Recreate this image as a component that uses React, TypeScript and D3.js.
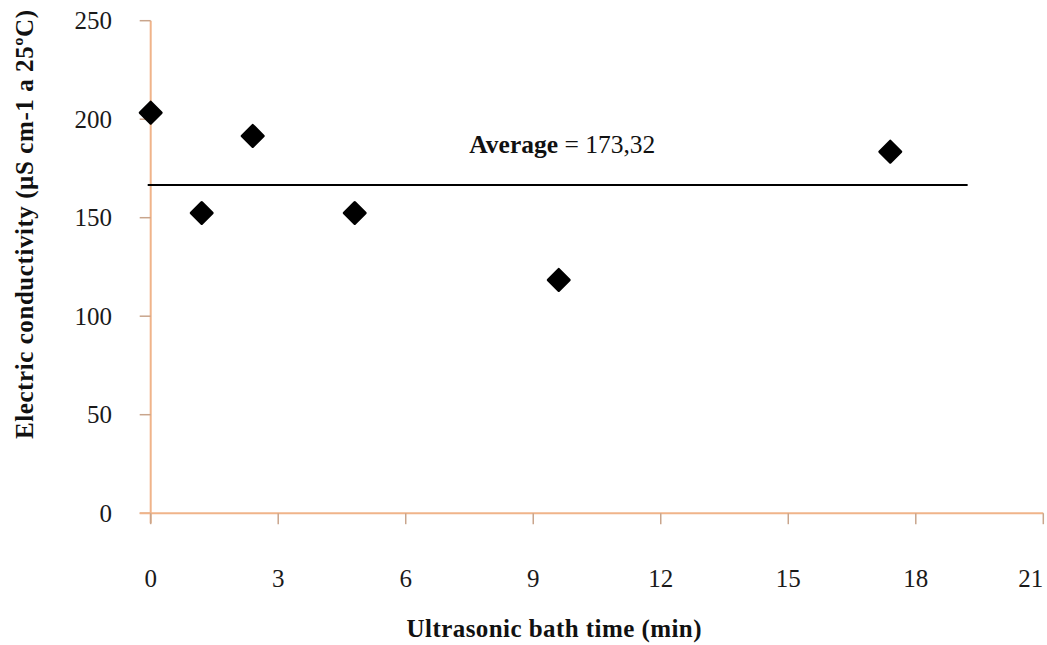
import React, { useRef, useEffect } from "react";
import * as d3 from "d3";

// bath time (min) and conductivity readings
const times = [0, 1.2, 2.4, 4.8, 9.6, 17.4];
const conductivity = [203.3, 152.4, 191.5, 152.4, 118.4, 183.5];
const xTicks = [0, 3, 6, 9, 12, 15, 18, 21];
const yTicks = [0, 50, 100, 150, 200, 250];
// horizontal reference line as drawn (value, x start, x end)
const averageLine = { value: 166.6, from: 0, to: 19.22 };
const averageLabel = "173,32";

const W = 1047;
const H = 645;
const axisColor = "#F0B48A";
const tickColor = "#C9A58C";
const font = "'Liberation Serif', 'Times New Roman', serif";

const App = () => {
  const svgRef = useRef<SVGSVGElement | null>(null);

  useEffect(() => {
    const svg = d3.select(svgRef.current);
    svg.selectAll("*").remove();

    const x = d3.scaleLinear().domain([0, 21]).range([150.7, 1043.3]);
    const y = d3.scaleLinear().domain([0, 250]).range([513.2, 20.7]);

    const g = svg.append("g");

    // y axis line + ticks
    g.append("line")
      .attr("x1", x(0))
      .attr("x2", x(0))
      .attr("y1", y(250))
      .attr("y2", y(0) + 10)
      .attr("stroke", axisColor)
      .attr("stroke-width", 2);
    g.selectAll(".ytick")
      .data(yTicks)
      .join("line")
      .attr("x1", x(0) - 11)
      .attr("x2", x(0))
      .attr("y1", (d) => y(d))
      .attr("y2", (d) => y(d))
      .attr("stroke", tickColor)
      .attr("stroke-width", 1.5);
    g.selectAll(".ylab")
      .data(yTicks)
      .join("text")
      .attr("x", 112)
      .attr("y", (d) => y(d))
      .attr("dy", "0.35em")
      .attr("text-anchor", "end")
      .style("font-family", font)
      .style("font-size", "25px")
      .attr("fill", "#1a1a1a")
      .text((d) => d);

    // x axis line + ticks
    g.append("line")
      .attr("x1", x(0) - 11)
      .attr("x2", x(21))
      .attr("y1", y(0))
      .attr("y2", y(0))
      .attr("stroke", axisColor)
      .attr("stroke-width", 2);
    g.selectAll(".xtick")
      .data(xTicks)
      .join("line")
      .attr("x1", (d) => x(d))
      .attr("x2", (d) => x(d))
      .attr("y1", y(0))
      .attr("y2", y(0) + 11)
      .attr("stroke", tickColor)
      .attr("stroke-width", 1.5);
    // last label is clipped at the page edge, so it hangs left of its tick
    g.selectAll(".xlab")
      .data(xTicks)
      .join("text")
      .attr("x", (d, i) => (i === xTicks.length - 1 ? x(d) : x(d)))
      .attr("y", 587)
      .attr("text-anchor", (d, i) => (i === xTicks.length - 1 ? "end" : "middle"))
      .style("font-family", font)
      .style("font-size", "25px")
      .attr("fill", "#1a1a1a")
      .text((d) => d);

    // average line
    g.append("line")
      .attr("x1", x(averageLine.from) - 3)
      .attr("x2", x(averageLine.to))
      .attr("y1", y(averageLine.value))
      .attr("y2", y(averageLine.value))
      .attr("stroke", "#000")
      .attr("stroke-width", 2);

    const avgText = g
      .append("text")
      .attr("x", 469.3)
      .attr("y", 153)
      .style("font-family", font)
      .style("font-size", "25.5px")
      .attr("fill", "#111");
    avgText.append("tspan").style("font-weight", "bold").text("Average");
    avgText.append("tspan").text(" = " + averageLabel);

    // diamonds
    const r = 12;
    g.selectAll(".pt")
      .data(times)
      .join("path")
      .attr("d", (d, i) => {
        const cx = x(d);
        const cy = y(conductivity[i]);
        return `M${cx},${cy - r + 1.5}L${cx + r - 1.5},${cy}L${cx},${cy + r - 1.5}L${cx - r + 1.5},${cy}Z`;
      })
      .attr("fill", "#000")
      .attr("stroke", "#000")
      .attr("stroke-width", 3)
      .attr("stroke-linejoin", "round");

    // axis titles
    g.append("text")
      .attr("x", 554)
      .attr("y", 637)
      .attr("text-anchor", "middle")
      .attr("textLength", 295)
      .attr("lengthAdjust", "spacing")
      .style("font-family", font)
      .style("font-size", "25px")
      .style("font-weight", "bold")
      .attr("fill", "#111")
      .text("Ultrasonic bath time (min)");

    g.append("text")
      .attr("transform", `translate(33, 224.5) rotate(-90)`)
      .attr("text-anchor", "middle")
      .attr("textLength", 429)
      .attr("lengthAdjust", "spacing")
      .style("font-family", font)
      .style("font-size", "25px")
      .style("font-weight", "bold")
      .attr("fill", "#111")
      .text("Electric conductivity  (\u00B5S cm-1 a 25\u00BAC)");
  }, []);

  return (
    <svg
      ref={svgRef}
      width={W}
      height={H}
      style={{ position: "absolute", left: 0, top: 0, background: "#fff" }}
    />
  );
};

export default App;
